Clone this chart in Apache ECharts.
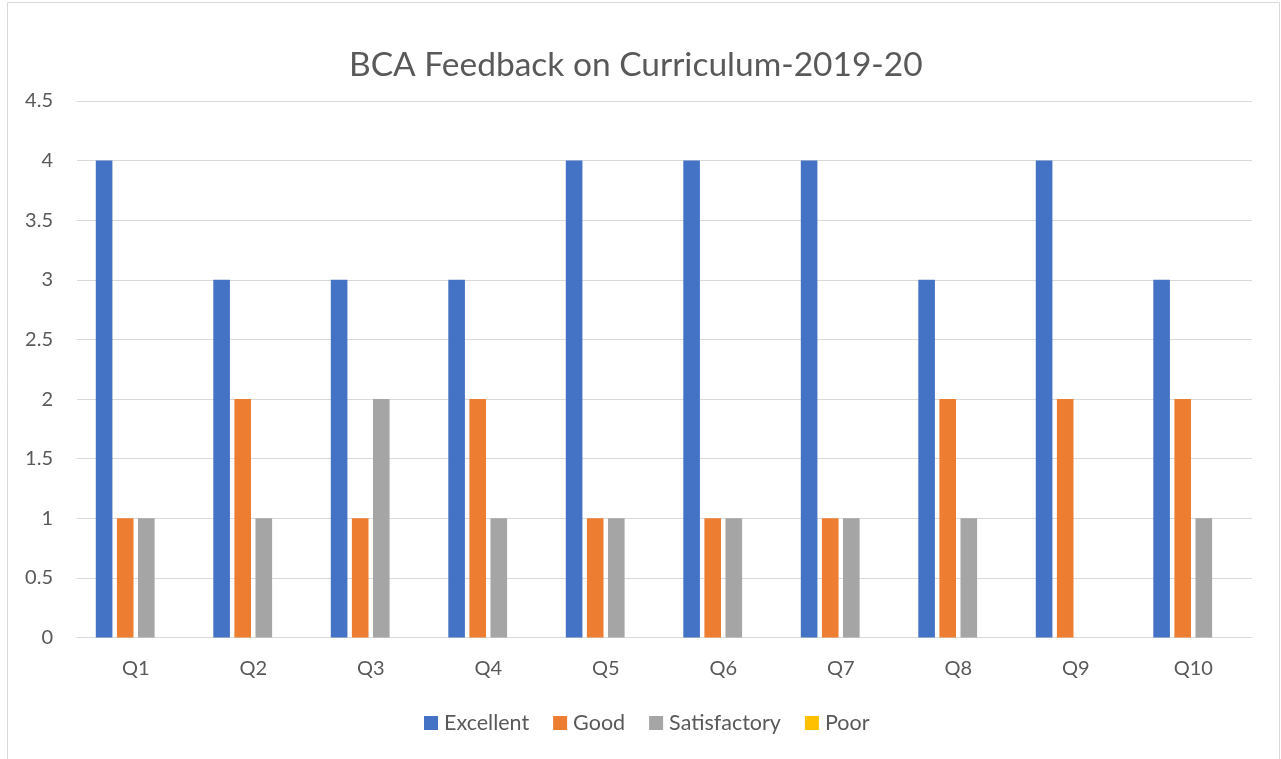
<!DOCTYPE html>
<html>
<head>
<meta charset="utf-8">
<script src="https://cdn.jsdelivr.net/npm/echarts@6/dist/echarts.min.js"></script>
<style>html,body{margin:0;padding:0;background:#fff;}#c{width:1281px;height:759px;}</style>
</head>
<body>
<div id="c"></div>
<script>
const categories = ['Q1','Q2','Q3','Q4','Q5','Q6','Q7','Q8','Q9','Q10'];
const excellent = [4,3,3,3,4,4,4,3,4,3];
const good = [1,2,1,2,1,1,1,2,2,2];
const satisfactory = [1,1,2,1,1,1,1,1,0,1];
const poor = [0,0,0,0,0,0,0,0,0,0];
const seriesNames = ['Excellent','Good','Satisfactory','Poor'];
const seriesColors = ['#4472C4','#ED7D31','#A5A5A5','#FFC000'];
const seriesData = [excellent, good, satisfactory, poor];

const FONT = 'Lato';
const chart = echarts.init(document.getElementById('c'), null, {renderer:'canvas'});
chart.setOption({
  animation: false,
  backgroundColor: '#fff',
  textStyle: {fontFamily: FONT},
  graphic: [{
    type: 'rect', silent: true, z: -1,
    shape: {x: 7.5, y: 2.5, width: 1272, height: 770},
    style: {fill: 'none', stroke: '#d9d9d9', lineWidth: 1}
  }],
  title: {
    text: 'BCA Feedback on Curriculum-2019-20',
    left: 344, top: 43,
    textStyle: {fontFamily: FONT, fontSize: 33.5, fontWeight: 'normal', color: '#595959'}
  },
  legend: {
    top: 707, left: 419,
    icon: 'rect', itemWidth: 14, itemHeight: 14, itemGap: 24,
    textStyle: {fontFamily: FONT, fontSize: 21.5, color: '#595959', padding: [0,0,0,1]},
    data: seriesNames
  },
  grid: {left: 77, right: 29, top: 101, bottom: 121.5, containLabel: false},
  xAxis: {
    type: 'category', data: categories,
    axisLine: {lineStyle: {color: '#d9d9d9', width: 1}},
    axisTick: {show: false},
    axisLabel: {fontFamily: FONT, fontSize: 20, color: '#595959', margin: 21}
  },
  yAxis: {
    type: 'value', min: 0, max: 4.5, interval: 0.5,
    axisLine: {show: false}, axisTick: {show: false},
    splitLine: {lineStyle: {color: '#d9d9d9', width: 1}},
    axisLabel: {fontFamily: FONT, fontSize: 20, color: '#595959', margin: 24}
  },
  series: seriesNames.map((n, i) => ({
    name: n, type: 'bar', data: seriesData[i],
    barGap: '27%', barCategoryGap: '32%',
    itemStyle: {color: seriesColors[i]}
  }))
});
</script>
</body>
</html>
